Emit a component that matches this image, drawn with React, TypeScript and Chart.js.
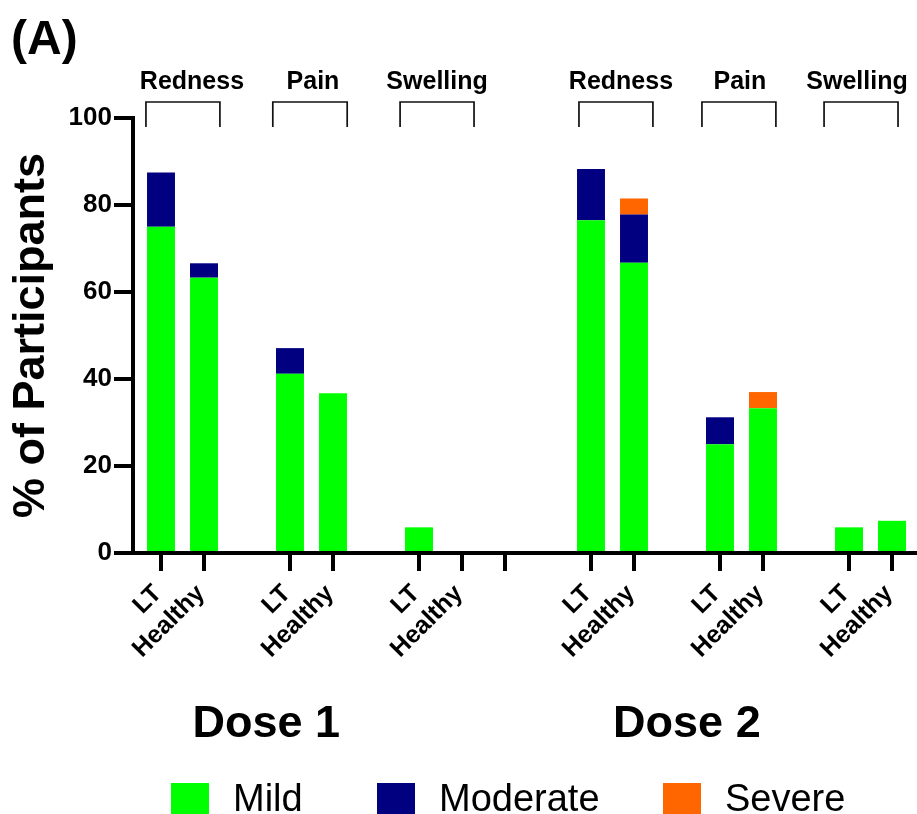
import React, { useEffect, useRef } from 'react';
import { Chart, registerables } from 'chart.js';

Chart.register(...registerables);

const FONT = "'Liberation Sans', Arial, Helvetica, sans-serif";

// x categories (blank entries are spacer slots)
const categories = ['LT', 'Healthy', '', 'LT', 'Healthy', '', 'LT', 'Healthy', '', '', 'LT', 'Healthy', '', 'LT', 'Healthy', '', 'LT', 'Healthy'];
const showTick = [true, true, false, true, true, false, true, true, true, false, true, true, false, true, true, false, true, true];

// series values (% of participants)
const mild = [75, 63.3, null, 41.2, 36.7, null, 5.9, null, null, null, 76.5, 66.7, null, 25, 33.3, null, 5.9, 7.4];
const moderate = [12.5, 3.3, null, 5.9, null, null, null, null, null, null, 11.8, 11.1, null, 6.2, null, null, null, null];
const severe = [null, null, null, null, null, null, null, null, null, null, null, 3.7, null, null, 3.7, null, null, null];

const seriesNames = ['Mild', 'Moderate', 'Severe'];
const seriesColors = ['#00FF00', '#000080', '#FF6600'];

// bracket groups above the bars (in category units)
const groupLabels = ['Redness', 'Pain', 'Swelling', 'Redness', 'Pain', 'Swelling'];
const groupStart = [-0.35, 2.6, 5.56, 9.72, 12.58, 15.42];
const groupEnd = [1.37, 4.33, 7.28, 11.44, 14.3, 17.14];
const groupLabelShift = [9, 3, 0, 5, 1, -4];

const doseLabels = ['Dose 1', 'Dose 2'];
const dosePos = [2.45, 12.23];

const yTitle = '% of Participants';
const panelLabel = '(A)';

const legendBoxX = [171, 377, 663];

const overlay = {
  id: 'overlay',
  afterLayout(chart: any) {
    const x = chart.scales.x;
    x.right = chart.width;
    x.width = x.right - x.left;
    x._startPixel = x.left + 6.5;
    x._length = chart.width - 3.5 - x._startPixel;
  },
  afterDraw(chart: any) {
    const ctx = chart.ctx as CanvasRenderingContext2D;
    const x = chart.scales.x;
    const top = chart.chartArea.top;
    ctx.save();
    ctx.fillStyle = '#000';
    ctx.textBaseline = 'alphabetic';

    // panel label
    ctx.textAlign = 'left';
    ctx.font = `bold 48px ${FONT}`;
    ctx.fillText(panelLabel, 11, 54);

    // brackets + group labels
    ctx.strokeStyle = '#111';
    ctx.lineWidth = 1.7;
    ctx.font = `bold 25px ${FONT}`;
    ctx.textAlign = 'center';
    groupLabels.forEach((g, i) => {
      const x1 = x.getPixelForValue(groupStart[i]);
      const x2 = x.getPixelForValue(groupEnd[i]);
      ctx.beginPath();
      ctx.moveTo(x1, top + 9);
      ctx.lineTo(x1, top - 16);
      ctx.lineTo(x2, top - 16);
      ctx.lineTo(x2, top + 9);
      ctx.stroke();
      ctx.fillText(g, (x1 + x2) / 2 + groupLabelShift[i], top - 29);
    });

    // dose labels
    ctx.font = `bold 45px ${FONT}`;
    doseLabels.forEach((d, i) => {
      ctx.fillText(d, x.getPixelForValue(dosePos[i]), 737);
    });

    // legend
    ctx.textAlign = 'left';
    ctx.font = `38px ${FONT}`;
    chart.data.datasets.forEach((ds: any, i: number) => {
      const bx = legendBoxX[i];
      ctx.fillStyle = ds.backgroundColor;
      ctx.fillRect(bx, 783, 38, 32);
      ctx.fillStyle = '#000';
      ctx.fillText(ds.label, bx + 62, 811);
    });
    ctx.restore();
  },
};

export default function App() {
  const ref = useRef<HTMLCanvasElement | null>(null);

  useEffect(() => {
    if (!ref.current) return;
    const chart = new Chart(ref.current, {
      type: 'bar',
      data: {
        labels: categories,
        datasets: [mild, moderate, severe].map((d, i) => ({
          label: seriesNames[i],
          data: d,
          backgroundColor: seriesColors[i],
          borderWidth: 0,
          barPercentage: 0.65,
          categoryPercentage: 1,
        })),
      },
      options: {
        animation: false,
        responsive: false,
        devicePixelRatio: 1,
        layout: { padding: { top: 118, left: 0, right: 0, bottom: 0 } },
        plugins: {
          legend: { display: false },
          tooltip: { enabled: false },
          title: { display: false },
        },
        scales: {
          x: {
            stacked: true,
            offset: true,
            afterFit: (s: any) => { s.height = 261; },
            grid: {
              display: true,
              offset: false,
              drawOnChartArea: false,
              drawTicks: true,
              tickLength: 18,
              tickWidth: 4,
              lineWidth: 4,
              tickColor: (c: any) => (showTick[c.index] ? '#000' : 'rgba(0,0,0,0)'),
            },
            border: { display: true, color: '#000', width: 4 },
            ticks: {
              autoSkip: false,
              minRotation: 45,
              maxRotation: 45,
              padding: 8,
              labelOffset: -3,
              color: '#000',
              font: { family: FONT, size: 25, weight: 'bold' },
            },
          },
          y: {
            stacked: true,
            min: 0,
            max: 100,
            afterFit: (s: any) => { s.width = 133; },
            grid: {
              display: true,
              drawOnChartArea: false,
              drawTicks: true,
              tickLength: 19,
              tickWidth: 4,
              lineWidth: 4,
              tickColor: '#000',
            },
            border: { display: true, color: '#000', width: 4 },
            ticks: {
              stepSize: 20,
              padding: 2,
              color: '#000',
              font: { family: FONT, size: 26, weight: 'bold' },
            },
            title: {
              display: true,
              text: yTitle,
              color: '#000',
              padding: { top: 5, bottom: 0 },
              font: { family: FONT, size: 45, weight: 'bold' },
            },
          },
        },
      },
      plugins: [overlay],
    } as any);
    return () => chart.destroy();
  }, []);

  return (
    <div style={{ position: 'absolute', left: 0, top: 0, width: 917, height: 814, background: '#fff' }}>
      <canvas ref={ref} width={917} height={814} style={{ display: 'block', width: 917, height: 814 }} />
    </div>
  );
}
